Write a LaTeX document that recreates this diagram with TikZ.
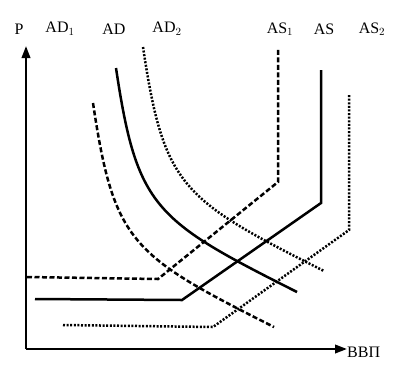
\documentclass[tikz,border=0pt]{standalone}
\usepackage{fontspec}
\setmainfont{Liberation Serif}
\usetikzlibrary{arrows.meta}
\tikzset{
  axisline/.style={line width=2.2pt,-{Triangle[length=12pt,width=8.5pt]}},
  curve/.style={line width=2.5pt},
  dashcurve/.style={line width=2.5pt,dash pattern=on 5pt off 2.5pt},
  dotcurve/.style={line width=2.5pt,dash pattern=on 2pt off 1.6pt},
  lbl/.style={font=\fontsize{16}{18}\selectfont,inner sep=0pt}
}
\newcommand\adpath{(116,68) .. controls (137,208) and (154,220) .. (297,292)}
\begin{document}
\begin{tikzpicture}[x=1pt,y=-1pt]
\useasboundingbox (0,0) rectangle (393,365);
% axes
\coordinate (O) at (26,349);
\coordinate (Ytip) at (26,46);
\coordinate (Xtip) at (347,349);
\draw[axisline] (O) -- (Ytip);
\draw[axisline] (O) -- (Xtip);
\node[lbl] (P) at (19,29) {P};
\node[lbl,anchor=west] (X) at (347,352) {ВВП};
% AD curves
\draw[curve] \adpath;
\begin{scope}[shift={(-23,35)}]
\draw[dashcurve] \adpath;
\end{scope}
\begin{scope}[shift={(27,-21)}]
\draw[dotcurve] \adpath;
\end{scope}
% AS curves
\draw[curve] (35,299) -- (182,300) -- (321,203) -- (321,70);
\draw[dashcurve] (27,277) -- (158,279) -- (278,182) -- (278,48);
\draw[dotcurve] (63,325) -- (213,327) -- (349,230) -- (349,95);
% labels
\node[lbl] (ad1) at (60,29) {AD$_1$};
\node[lbl] (ad) at (114,29) {AD};
\node[lbl] (ad2) at (167,29) {AD$_2$};
\node[lbl] (as1) at (280,29) {AS$_1$};
\node[lbl] (as) at (324,29) {AS};
\node[lbl] (as2) at (372,29) {AS$_2$};
\end{tikzpicture}
\end{document}
